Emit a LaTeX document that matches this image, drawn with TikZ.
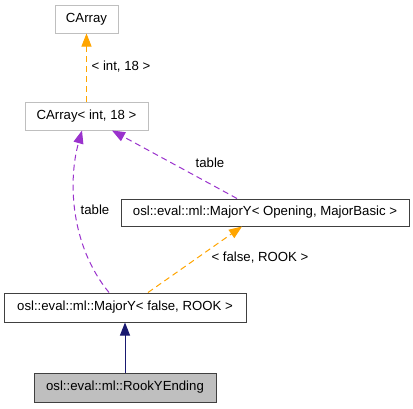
\documentclass[tikz,border=0pt]{standalone}
\usepackage{fontspec}
\setmainfont{Liberation Sans}
\usetikzlibrary{arrows.meta}
\definecolor{edgeorange}{HTML}{FFA500}
\definecolor{edgepurple}{HTML}{9A32CD}
\definecolor{edgenavy}{HTML}{191970}
\definecolor{boxgray}{HTML}{BFBFBF}
\definecolor{borderdark}{HTML}{404040}
\begin{document}
\begin{tikzpicture}[x=1pt,y=-1pt,
  every node/.style={font=\fontsize{13.2}{15}\selectfont, inner sep=0pt},
  clsbox/.style={draw=borderdark, line width=1pt, fill=white},
  extbox/.style={draw=boxgray, line width=1pt, fill=white},
  curbox/.style={draw=borderdark, line width=1pt, fill=boxgray},
  tip/.style={-{Triangle[length=13pt,width=10pt]}},
  tmpl/.style={tip, draw=edgeorange, dash pattern=on 6pt off 4pt, line width=1pt},
  use/.style={tip, draw=edgepurple, dash pattern=on 6pt off 4pt, line width=1pt},
  inh/.style={tip, draw=edgenavy, line width=1pt},
  lbl/.style={fill=none}]
\useasboundingbox (0,0) rectangle (413,408);
\fill[white] (0,0) rectangle (413,408);
\node[extbox, minimum width=63pt, minimum height=28pt] (a) at (86.5,19) {CArray};
\node[extbox, minimum width=123pt, minimum height=28pt] (b) at (86.5,116) {CArray< int, 18 >};
\node[clsbox, minimum width=288pt, minimum height=27pt] (c) at (265,212.5) {osl::eval::ml::MajorY< Opening, MajorBasic >};
\node[clsbox, minimum width=242pt, minimum height=29pt] (d) at (125,307.5) {osl::eval::ml::MajorY< false, ROOK >};
\node[curbox, minimum width=182pt, minimum height=29pt] (e) at (125,387.5) {osl::eval::ml::RookYEnding};
\draw[tmpl] (b.north) -- (a.south);
\draw[use] ([xshift=-28pt]c.north) -- ([xshift=25.5pt]b.south);
\draw[use] ([xshift=-16pt]d.north) .. controls (70,245) and (68,180) .. ([xshift=-4.5pt]b.south);
\draw[tmpl] ([xshift=23pt]d.north) -- ([xshift=-23pt]c.south);
\draw[inh] (e.north) -- (d.south);
\node[lbl] (l1) at (121,67) {< int, 18 >};
\node[lbl] (l2) at (210,163) {table};
\node[lbl] (l3) at (95,210) {table};
\node[lbl] (l4) at (260,258) {< false, ROOK >};
\end{tikzpicture}
\end{document}
